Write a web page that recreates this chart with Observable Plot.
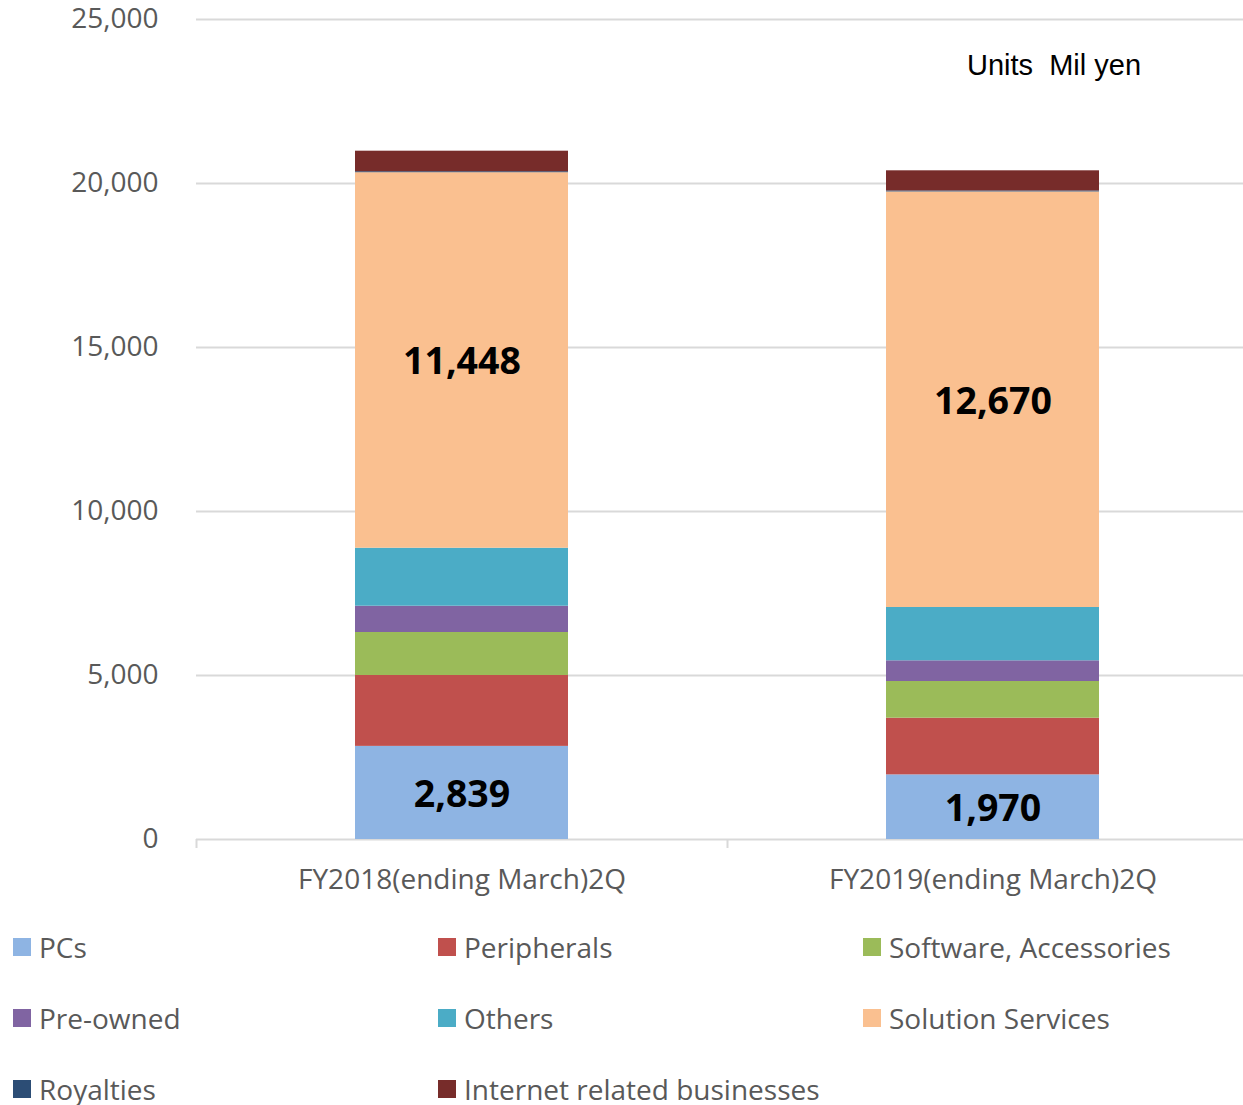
<!DOCTYPE html>
<html><head><meta charset="utf-8">
<script src="https://cdn.jsdelivr.net/npm/d3@7"></script>
<script src="https://cdn.jsdelivr.net/npm/@observablehq/plot@0.6"></script>
<style>
body{margin:0;background:#fff;overflow:hidden;font-family:"Open Sans",sans-serif;}
#wrap{position:relative;width:1243px;height:1105px;}
#chart{position:absolute;left:0;top:0;}
#units{position:absolute;left:967px;top:51px;font-family:"Liberation Sans",Arial,sans-serif;font-size:29px;color:#000;line-height:1;white-space:pre;}
.item{position:absolute;height:40px;display:flex;align-items:center;font-size:28px;color:#595959;white-space:nowrap;}
.sw{width:18px;height:18px;margin-right:8px;flex:none;}
</style></head>
<body>
<div id="wrap"><div id="chart"></div><div id="units">Units  Mil yen</div><div id="legend"></div></div>
<script>
const categories = ["FY2018(ending March)2Q", "FY2019(ending March)2Q"];
const series = ["PCs", "Peripherals", "Software, Accessories", "Pre-owned", "Others", "Solution Services", "Royalties", "Internet related businesses"];
const pcs = [2839, 1970];
const peripherals = [2161, 1728];
const software = [1311, 1119];
const preowned = [802, 631];
const others = [1768, 1625];
const solution = [11448, 12670];
const royalties = [30, 30];
const internet = [626, 614];
const colors = ["#8EB4E3", "#C0504D", "#9BBB59", "#8064A2", "#4BACC6", "#FAC090", "#2C4D75", "#772C2A"];
const labeledSeries = ["PCs", "Solution Services"];
const yTicks = [0, 5000, 10000, 15000, 20000, 25000];

const seriesValues = [pcs, peripherals, software, preowned, others, solution, royalties, internet];
const data = [];
categories.forEach((c, ci) => series.forEach((s, si) => data.push({cat: c, series: s, value: seriesValues[si][ci]})));

const fmt = d3.format(",");
const plot = Plot.plot({
  width: 1243, height: 905,
  marginLeft: 196, marginRight: 0, marginTop: 19, marginBottom: 66,
  style: {fontFamily: "'Open Sans', sans-serif", fontSize: "28px", background: "white", overflow: "visible"},
  x: {domain: categories, range: [196, 1258], padding: 0},
  y: {domain: [0, 25000]},
  color: {domain: series, range: colors},
  marks: [
    Plot.gridY(yTicks, {stroke: "#d9d9d9", strokeOpacity: 1, strokeWidth: 2}),
    Plot.axisY(yTicks, {tickSize: 0, tickPadding: 38, tickFormat: fmt, color: "#595959", fontSize: 28, label: null}),
    Plot.axisX({tickSize: 0, tickPadding: 30, color: "#595959", fontSize: 28, label: null}),
    Plot.ruleX(categories, {x: d => d, dx: -265.5, y1: 0, y2: 0, insetBottom: -9, stroke: "#d9d9d9", strokeWidth: 2}),
    Plot.barY(data, Plot.stackY({x: "cat", y: "value", z: "series", order: series, fill: "series", insetLeft: 159, insetRight: 159})),
    Plot.text(data, Plot.stackY({x: "cat", y: "value", z: "series", order: series,
      text: d => labeledSeries.includes(d.series) ? fmt(d.value) : "",
      fontSize: 37.5, fontWeight: "bold", fill: "black", dy: 2}))
  ]
});
document.getElementById("chart").appendChild(plot);

const legend = document.getElementById("legend");
series.forEach((s, i) => {
  const col = i % 3, row = Math.floor(i / 3);
  const el = document.createElement("div");
  el.className = "item";
  el.style.left = (13 + col * 425) + "px";
  el.style.top = (927 + row * 71) + "px";
  el.innerHTML = `<span class="sw" style="background:${colors[i]}"></span><span>${s}</span>`;
  legend.appendChild(el);
});
</script>
</body></html>
